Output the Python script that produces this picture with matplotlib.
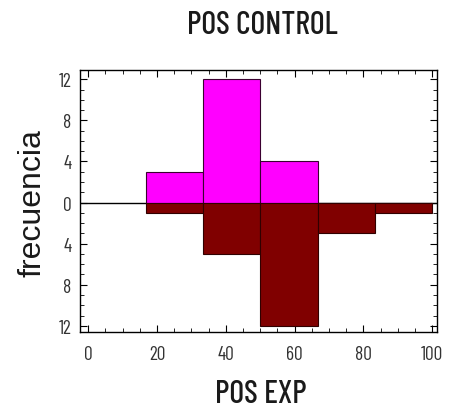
import numpy as np
from matplotlib import pyplot as plt
from matplotlib.ticker import MultipleLocator, FuncFormatter

# histogram bins (class edges) and counts
bin_edges = [16.67, 33.33, 50.0, 66.67, 83.33, 100.0]
control_counts = [3, 12, 4, 0, 0]
exp_counts = [1, 5, 12, 3, 1]

narrow = ['Barlow Condensed', 'Archivo Narrow', 'DejaVu Sans']

fig = plt.figure(figsize=(4.49, 4.10), dpi=100)
ax = fig.add_axes([80 / 449, 1 - 333 / 410, 357 / 449, 262 / 410])

lefts = np.array(bin_edges[:-1])
widths = np.diff(bin_edges)

ax.axhline(0, color='black', lw=1.0, zorder=1)
ax.bar(lefts, control_counts, width=widths, align='edge',
       color='#ff00ff', edgecolor='#3a0030', lw=0.8, zorder=2)
ax.bar(lefts, -np.array(exp_counts), width=widths, align='edge',
       color='#800000', edgecolor='#300000', lw=0.8, zorder=2)

ax.set_xlim(-2.4, 101.4)
ax.set_ylim(-12.6, 12.9)

ax.xaxis.set_major_locator(MultipleLocator(20))
ax.xaxis.set_minor_locator(MultipleLocator(5))
ax.yaxis.set_major_locator(MultipleLocator(4))
ax.yaxis.set_minor_locator(MultipleLocator(1))
ax.yaxis.set_major_formatter(FuncFormatter(lambda v, p: '%d' % abs(v)))

ax.tick_params(which='both', direction='in', top=True, right=True,
               labelsize=14)
ax.tick_params(axis='x', pad=9)
ax.tick_params(axis='y', pad=6)
ax.tick_params(which='major', length=5)
ax.tick_params(which='minor', length=3)
for lab in ax.get_xticklabels() + ax.get_yticklabels():
    lab.set_family(narrow)
    lab.set_color('#333333')

for sp in ax.spines.values():
    sp.set_linewidth(1.0)

fig.text(262 / 449, 1 - 26 / 410, 'POS CONTROL', ha='center', va='center',
         fontsize=23, family=narrow, weight=500, color='#1a1a1a')
fig.text(261 / 449, 1 - 395 / 410, 'POS EXP', ha='center', va='center',
         fontsize=23, family=narrow, weight=500, color='#1a1a1a')
fig.text(33 / 449, 1 - 203 / 410, 'frecuencia', rotation=90, ha='center',
         va='center', fontsize=23, family=['Liberation Sans', 'DejaVu Sans'],
         color='#1a1a1a')

fig.savefig('out.png', dpi=100)
